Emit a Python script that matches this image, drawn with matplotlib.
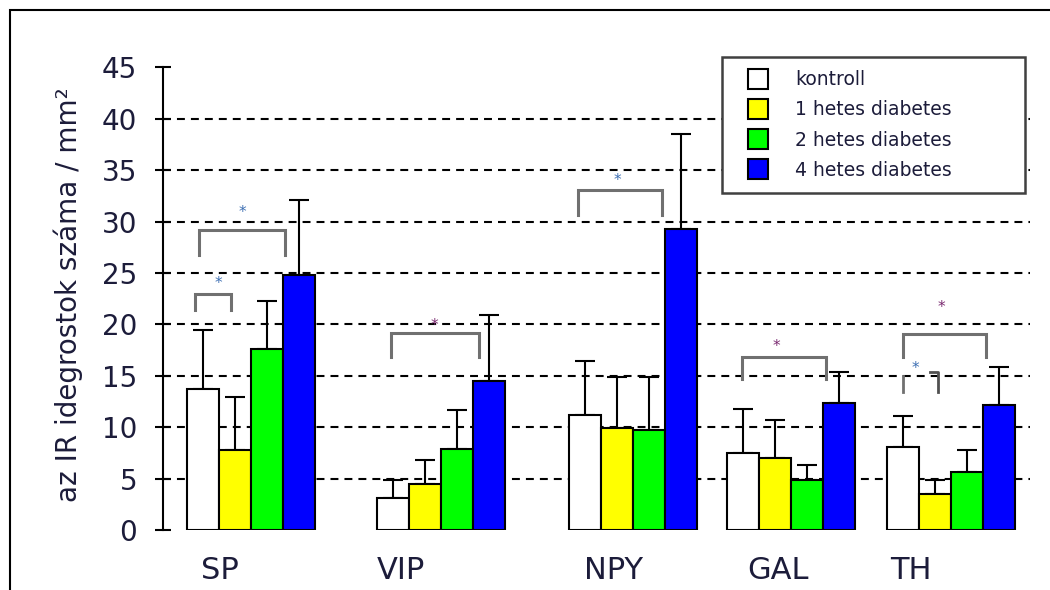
import matplotlib
matplotlib.use("Agg")
import matplotlib.pyplot as plt
from matplotlib.lines import Line2D
from matplotlib.patches import Rectangle
import numpy as np

# ---------------- data ----------------
categories = ["SP", "VIP", "NPY", "GAL", "TH"]
series_names = ["kontroll", "1 hetes diabetes", "2 hetes diabetes", "4 hetes diabetes"]
kontroll = [13.7, 3.1, 11.15, 7.5, 8.1]
het1 = [7.8, 4.45, 9.9, 7.0, 3.55]
het2 = [17.6, 7.9, 9.7, 4.9, 5.65]
het4 = [24.8, 14.5, 29.3, 12.4, 12.15]
err_kontroll = [5.8, 1.8, 5.25, 4.3, 3.0]
err_het1 = [5.1, 2.35, 5.0, 3.7, 1.35]
err_het2 = [4.7, 3.8, 5.2, 1.45, 2.1]
err_het4 = [7.3, 6.4, 9.2, 3.0, 3.75]
yticks = [0, 5, 10, 15, 20, 25, 30, 35, 40, 45]
ylabel = "az IR idegrostok száma / mm²"

# significance brackets: (x_left, x_right, y_top, y_bottom)  and star position
brackets = [
    (0.25, 1.375, 23.0, 21.4),
    (0.375, 3.06, 29.2, 26.8),
    (6.375, 9.125, 19.2, 16.8),
    (12.22, 14.84, 33.1, 30.6),
    (17.34, 19.97, 16.85, 14.7),
    (22.375, 24.97, 19.1, 16.8),
]
stars = [(0.97, 24.0, "#3d6fb3"), (1.72, 30.9, "#3d6fb3"), (7.72, 19.9, "#7a2a70"),
         (13.44, 34.0, "#3d6fb3"), (18.4, 17.9, "#7a2a70"), (23.56, 21.6, "#7a2a70"),
         (22.75, 15.7, "#3d6fb3")]

# ---------------- layout ----------------
group_left = [0, 5.94, 11.94, 16.88, 21.875]
label_pos = [1.03, 6.69, 13.34, 18.47, 22.63]
colors = ["#ffffff", "#ffff00", "#00ff00", "#0000ff"]
text_color = "#1c1c3a"

fig = plt.figure(figsize=(10.5, 5.9), dpi=100)
ax = fig.add_axes([163 / 1050, 60 / 590, 867 / 1050, 462.5 / 590])

values = [kontroll, het1, het2, het4]
errors = [err_kontroll, err_het1, err_het2, err_het4]
for i, (vals, errs, col) in enumerate(zip(values, errors, colors)):
    xs = np.array(group_left) + i + 0.5
    ax.bar(xs, vals, width=1.0, color=col, edgecolor="black", linewidth=1.5, zorder=3)
    ax.errorbar(xs, vals, yerr=[np.zeros(len(errs)), errs], fmt="none", ecolor="black",
                elinewidth=1.5, capsize=7, capthick=1.5, zorder=2)

ax.set_xlim(-0.75, 26.34)
ax.set_ylim(0, 45)

# dashed gridlines
for y in yticks[1:-1]:
    ax.axhline(y, color="black", lw=1.5, linestyle=(0, (3.8, 2.9)), zorder=1)

# brackets
for xl, xr, yt, yb in brackets:
    ax.plot([xl, xl, xr, xr], [yb, yt, yt, yb], color="#707070", lw=2.2,
            solid_joinstyle="miter", zorder=4)
# small TH bracket (broken)
ax.plot([22.375, 22.375], [15.0, 13.4], color="#707070", lw=2.0, zorder=4)
ax.plot([23.2, 23.47, 23.47], [15.4, 15.4, 13.4], color="#505050", lw=2.0, zorder=4)
for sx, sy, sc in stars:
    ax.text(sx, sy, "*", color=sc, fontsize=11, ha="center", va="center", zorder=5)

# axes styling
for s in ["top", "right", "bottom"]:
    ax.spines[s].set_visible(False)
ax.spines["left"].set_linewidth(1.5)
ax.set_yticks(yticks)
ax.set_yticklabels([str(t) for t in yticks])
ax.tick_params(axis="y", direction="inout", length=11, width=1.5, pad=13,
               labelsize=20, labelcolor=text_color)
ax.set_xticks(label_pos)
ax.set_xticklabels(categories)
ax.tick_params(axis="x", length=0, pad=19, labelsize=22, labelcolor=text_color)

fig.text(68 / 1050, 0.5, ylabel, rotation=90, ha="center", va="center",
         fontsize=20, color=text_color)

# legend
handles = [Line2D([], [], marker="s", markersize=14, markerfacecolor=c,
                  markeredgecolor="black", markeredgewidth=1.5, linestyle="none")
           for c in colors]
leg = ax.legend(handles, series_names, loc="upper left",
                bbox_to_anchor=(722 / 1050, (590 - 197) / 590, 303 / 1050, 140 / 590),
                bbox_transform=fig.transFigure, mode="expand",
                fontsize=13.5, frameon=True, fancybox=False, framealpha=1.0,
                handlelength=2.45, handletextpad=0.75, labelspacing=0.6,
                borderpad=0.7, borderaxespad=0)
leg.set_zorder(10)
leg.get_frame().set_edgecolor("#404040")
leg.get_frame().set_linewidth(1.8)
for t in leg.get_texts():
    t.set_color(text_color)

# outer border
fig.patches.append(Rectangle((10 / 1050, -0.2), 1.2, (580 / 590) + 0.2,
                             transform=fig.transFigure, fill=False,
                             edgecolor="black", lw=1.5))

fig.savefig("out.png", dpi=100)
